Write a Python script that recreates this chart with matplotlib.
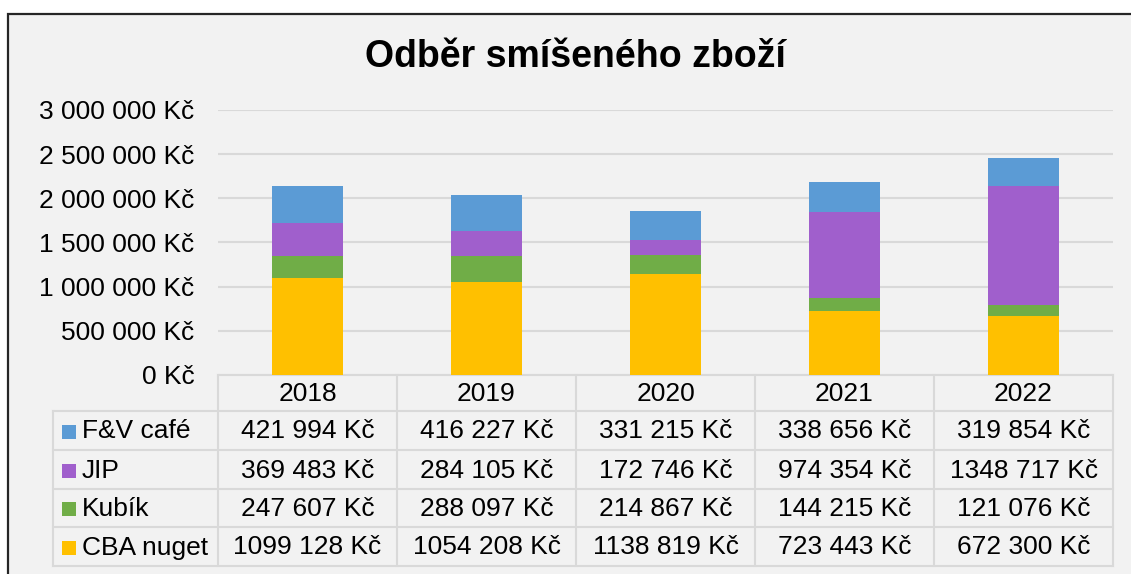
import matplotlib.pyplot as plt
from matplotlib.patches import Rectangle
from matplotlib.ticker import FuncFormatter

plt.rcParams['font.family'] = ['Liberation Sans', 'DejaVu Sans']

years = ['2018', '2019', '2020', '2021', '2022']
series = ['F&V café', 'JIP', 'Kubík', 'CBA nuget']
fv_cafe = [421994, 416227, 331215, 338656, 319854]
jip = [369483, 284105, 172746, 974354, 1348717]
kubik = [247607, 288097, 214867, 144215, 121076]
cba_nuget = [1099128, 1054208, 1138819, 723443, 672300]
colors = {'F&V café': '#5b9bd5', 'JIP': '#a05fcc',
          'Kubík': '#70ad47', 'CBA nuget': '#ffc000'}
values = {'F&V café': fv_cafe, 'JIP': jip, 'Kubík': kubik,
          'CBA nuget': cba_nuget}

W, H = 1131, 574
BG = '#f2f2f2'
LINE = '#d9d9d9'


def fx(px):
    return px / W


def fy(py):
    return 1 - py / H


def money_axis(v, pos):
    return f"{int(v):,} Kč".replace(',', ' ')


def money_table(v):
    return f"{v // 1000} {v % 1000:03d} Kč"


fig = plt.figure(figsize=(W / 100, H / 100), dpi=100)
fig.patch.set_facecolor('white')

# background + frame, in pixel coordinates
bg = fig.add_axes([0, 0, 1, 1])
bg.set_xlim(0, W)
bg.set_ylim(H, 0)
bg.axis('off')
bg.add_patch(Rectangle((8, 14), 1200, 700, facecolor=BG,
                       edgecolor='#262626', lw=1.6))

# plot area
left, right, top, bottom = 218, 1113, 110, 375
ax = fig.add_axes([fx(left), fy(bottom), fx(right - left), (bottom - top) / H])
ax.set_facecolor('none')
x = range(len(years))
base = [0] * len(years)
for name in ['CBA nuget', 'Kubík', 'JIP', 'F&V café']:
    ax.bar(x, values[name], 0.4, bottom=base, color=colors[name], zorder=3)
    base = [b + v for b, v in zip(base, values[name])]
ax.set_xlim(-0.5, len(years) - 0.5)
ax.set_ylim(0, 3000000)
ax.set_yticks(range(0, 3000001, 500000))
ax.yaxis.set_major_formatter(FuncFormatter(money_axis))
ax.grid(axis='y', color=LINE, lw=1.5, zorder=0)
ax.set_xticks([])
ax.tick_params(axis='y', length=0, labelsize=19, pad=17)
for s in ax.spines.values():
    s.set_visible(False)

fig.text(fx(575), fy(57), 'Odběr smíšeného zboží', ha='center', va='center',
         fontsize=27, fontweight='bold')

# data table
col_edges = [218, 397, 576, 755, 934, 1113]
row_edges = [375, 411, 450, 489, 527, 566]
tleft = 53
kw = dict(color=LINE, lw=1.5, zorder=2)
bg.plot([col_edges[0], col_edges[-1]], [row_edges[0]] * 2, **kw)
for r in row_edges[1:]:
    bg.plot([tleft, col_edges[-1]], [r, r], **kw)
bg.plot([tleft, tleft], [row_edges[1], row_edges[-1]], **kw)
for c in col_edges:
    bg.plot([c, c], [row_edges[0], row_edges[-1]], **kw)

for i, yr in enumerate(years):
    cx = (col_edges[i] + col_edges[i + 1]) / 2
    bg.text(cx, (row_edges[0] + row_edges[1]) / 2 + 1, yr, ha='center',
            va='center', fontsize=19)
for j, name in enumerate(series):
    cy = (row_edges[j + 1] + row_edges[j + 2]) / 2 + 1
    bg.add_patch(Rectangle((62, cy - 7), 14, 14, color=colors[name], lw=0))
    bg.text(82, cy, name, ha='left', va='center', fontsize=19)
    for i, v in enumerate(values[name]):
        cx = (col_edges[i] + col_edges[i + 1]) / 2
        bg.text(cx, cy, money_table(v), ha='center', va='center', fontsize=19)

fig.savefig('out.png', dpi=100, facecolor='white')
